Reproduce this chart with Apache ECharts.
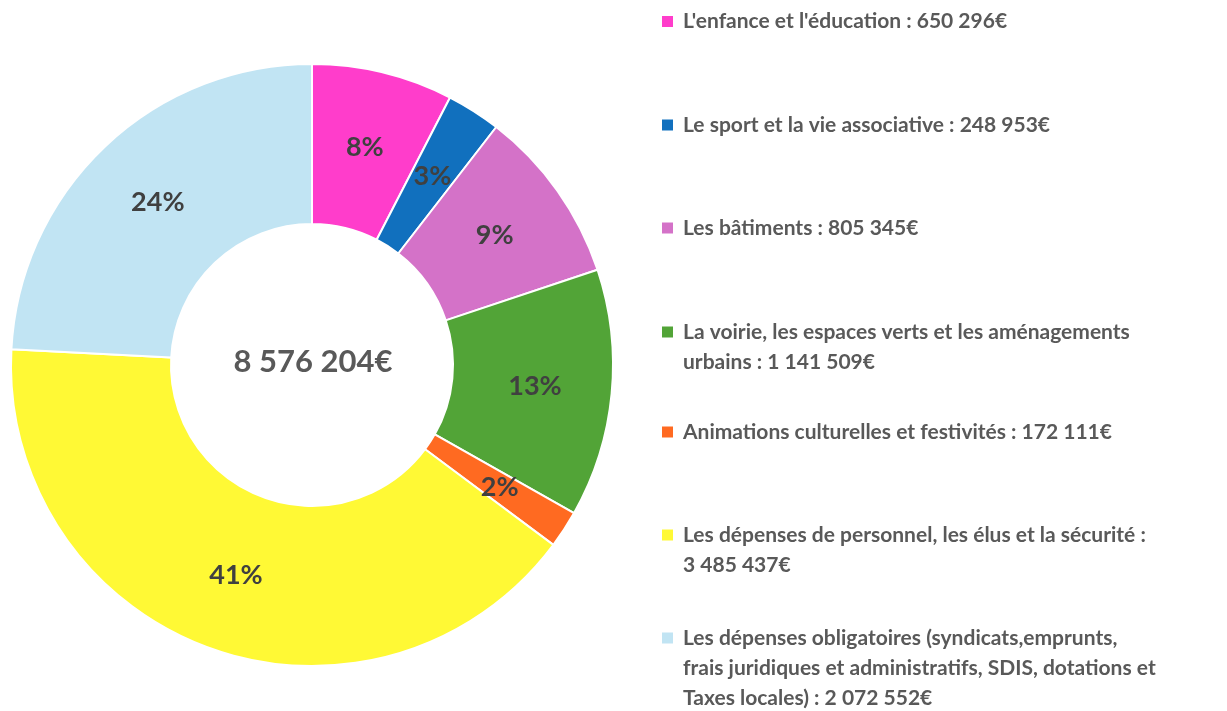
<!DOCTYPE html>
<html>
<head>
<meta charset="utf-8">
<script src="https://cdn.jsdelivr.net/npm/echarts@6/dist/echarts.min.js"></script>
<style>
  html, body { margin: 0; padding: 0; background: #fff; }
  #main { width: 1227px; height: 711px; }
</style>
</head>
<body>
<div id="main"></div>
<script>
// categories (line breaks where the legend wraps)
const categories = [
  "L'enfance et l'éducation",
  'Le sport et la vie associative',
  'Les bâtiments',
  'La voirie, les espaces verts et les aménagements\nurbains',
  'Animations culturelles et festivités',
  'Les dépenses de personnel, les élus et la sécurité',
  'Les dépenses obligatoires (syndicats,emprunts,\nfrais juridiques et administratifs, SDIS, dotations et\nTaxes locales)'
]
const amounts = [650296, 248953, 805345, 1141509, 172111, 3485437, 2072552]
const totalLabel = '8 576 204€'
const colors = ['#FF3DCB', '#1170BE', '#D472C8', '#52A437', '#FF6A21', '#FFF935', '#C1E4F3']
// amount goes on its own line for these items
const amountOnNewLine = [5]

const chartDom = document.getElementById('main')
const myChart = echarts.init(chartDom)

const fmt = v => String(v).replace(/\B(?=(\d{3})+(?!\d))/g, '\u00a0')

function legendText (i) {
  const sep = amountOnNewLine.includes(i) ? ' :\n' : ' : '
  return categories[i] + sep + fmt(amounts[i]) + '€'
}

// first-line centre of each legend entry
const legendY = [21.5, 125, 228, 332, 432, 535, 638]
const lineH = 30

const legends = categories.map((name, i) => {
  const n = legendText(i).split('\n').length
  // square sits on the first line: icon box is taller, square at its top
  const h = lineH * (n - 1) + 11
  return {
    data: [name],
    orient: 'vertical',
    left: 662,
    top: legendY[i] - lineH / 2,
    padding: 0,
    itemWidth: 16,
    itemHeight: h,
    icon: 'path://M0,0H11V11H0Z M16,' + h + 'L16,' + h,
    itemStyle: { borderWidth: 0 },
    selectedMode: false,
    formatter: () => legendText(i),
    textStyle: {
      fontFamily: 'Lato',
      fontWeight: 'bold',
      fontSize: 21,
      lineHeight: lineH,
      color: '#595959'
    }
  }
})

const option = {
  animation: false,
  color: colors,
  legend: legends,
  graphic: [
    {
      type: 'text',
      x: 313,
      y: 362,
      style: {
        text: totalLabel,
        textAlign: 'center',
        textVerticalAlign: 'middle',
        fontFamily: 'Lato',
        fontWeight: 'bold',
        fontSize: 31,
        fill: '#595959'
      }
    }
  ],
  series: [
    {
      type: 'pie',
      center: [312, 365],
      radius: [141, 301],
      startAngle: 90,
      clockwise: true,
      avoidLabelOverlap: false,
      emphasis: { disabled: true },
      itemStyle: {
        borderColor: '#fff',
        borderWidth: 2
      },
      label: {
        show: true,
        position: 'inside',
        formatter: p => Math.round(p.percent) + '%',
        fontFamily: 'Lato',
        fontWeight: 'bold',
        fontSize: 27,
        padding: [7, 0, 0, 0],
        color: '#404040'
      },
      labelLine: { show: false },
      data: categories.map((name, i) => ({ name: name, value: amounts[i] }))
    }
  ]
}

myChart.setOption(option)
</script>
</body>
</html>
